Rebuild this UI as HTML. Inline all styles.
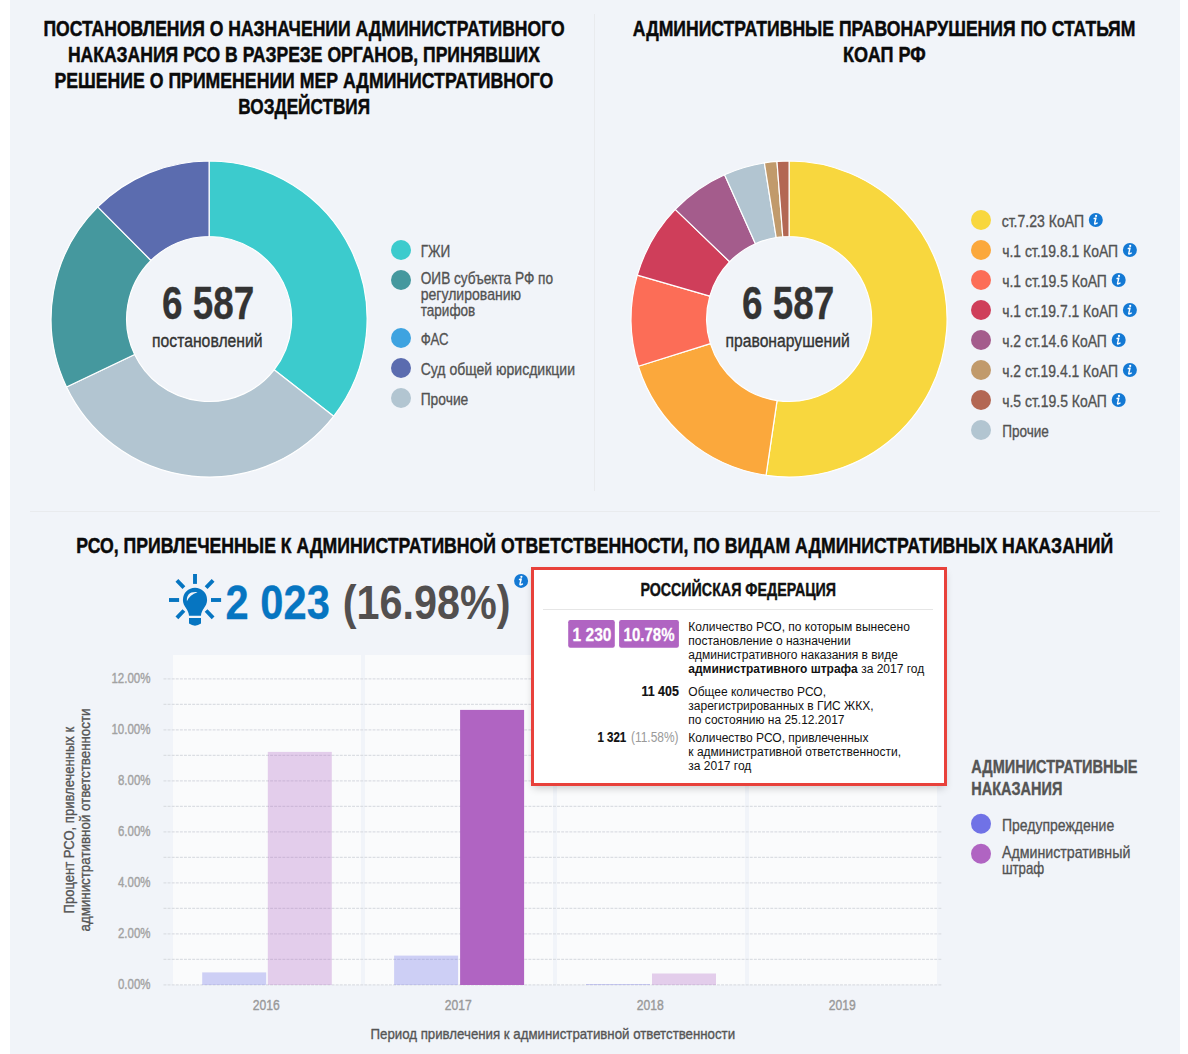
<!DOCTYPE html>
<html><head><meta charset="utf-8"><title>dashboard</title>
<style>
html,body{margin:0;padding:0;background:#fff;}
body{width:1188px;height:1054px;position:relative;overflow:hidden;font-family:"Liberation Sans",sans-serif;}
#bg{position:absolute;left:10px;top:0;width:1170px;height:1054px;background:#f1f4f9;}
svg{position:absolute;left:0;top:0;}
#tip{position:absolute;left:531px;top:567px;width:410px;height:213px;border:3px solid #e8413b;background:#fff;box-shadow:0 4px 8px -2px rgba(0,0,0,.2);}
</style></head><body>
<div id="bg"></div>
<svg width="1188" height="1054" viewBox="0 0 1188 1054">
<line x1="594.5" y1="14" x2="594.5" y2="491" stroke="#e9ebee" stroke-width="1"/>
<line x1="30" y1="511.5" x2="1160" y2="511.5" stroke="#e9ebee" stroke-width="1"/>
<text x="43.4" y="35.6" textLength="521.2" lengthAdjust="spacingAndGlyphs" font-size="22" font-weight="bold" fill="#0a0a0a" text-anchor="start" font-family="Liberation Sans, sans-serif"  stroke="#0a0a0a" stroke-width="0.48" stroke-linejoin="round">ПОСТАНОВЛЕНИЯ О НАЗНАЧЕНИИ АДМИНИСТРАТИВНОГО</text>
<text x="67.9" y="61.6" textLength="472.0" lengthAdjust="spacingAndGlyphs" font-size="22" font-weight="bold" fill="#0a0a0a" text-anchor="start" font-family="Liberation Sans, sans-serif"  stroke="#0a0a0a" stroke-width="0.48" stroke-linejoin="round">НАКАЗАНИЯ РСО В РАЗРЕЗЕ ОРГАНОВ, ПРИНЯВШИХ</text>
<text x="54.5" y="87.6" textLength="498.8" lengthAdjust="spacingAndGlyphs" font-size="22" font-weight="bold" fill="#0a0a0a" text-anchor="start" font-family="Liberation Sans, sans-serif"  stroke="#0a0a0a" stroke-width="0.48" stroke-linejoin="round">РЕШЕНИЕ О ПРИМЕНЕНИИ МЕР АДМИНИСТРАТИВНОГО</text>
<text x="238.3" y="113.6" textLength="131.7" lengthAdjust="spacingAndGlyphs" font-size="22" font-weight="bold" fill="#0a0a0a" text-anchor="start" font-family="Liberation Sans, sans-serif"  stroke="#0a0a0a" stroke-width="0.48" stroke-linejoin="round">ВОЗДЕЙСТВИЯ</text>
<text x="632.8" y="35.6" textLength="502.6" lengthAdjust="spacingAndGlyphs" font-size="22" font-weight="bold" fill="#0a0a0a" text-anchor="start" font-family="Liberation Sans, sans-serif"  stroke="#0a0a0a" stroke-width="0.48" stroke-linejoin="round">АДМИНИСТРАТИВНЫЕ ПРАВОНАРУШЕНИЯ ПО СТАТЬЯМ</text>
<text x="843.1" y="61.6" textLength="82.6" lengthAdjust="spacingAndGlyphs" font-size="22" font-weight="bold" fill="#0a0a0a" text-anchor="start" font-family="Liberation Sans, sans-serif"  stroke="#0a0a0a" stroke-width="0.48" stroke-linejoin="round">КОАП РФ</text>
<text x="76.3" y="552.8" textLength="1036.8" lengthAdjust="spacingAndGlyphs" font-size="22" font-weight="bold" fill="#0a0a0a" text-anchor="start" font-family="Liberation Sans, sans-serif"  stroke="#0a0a0a" stroke-width="0.48" stroke-linejoin="round">РСО, ПРИВЛЕЧЕННЫЕ К АДМИНИСТРАТИВНОЙ ОТВЕТСТВЕННОСТИ, ПО ВИДАМ АДМИНИСТРАТИВНЫХ НАКАЗАНИЙ</text>
<path d="M209.10,161.00 A158,158 0 0 1 333.61,416.27 L274.11,369.79 A82.5,82.5 0 0 0 209.10,236.50 Z" fill="#3ccbcd" stroke="#fff" stroke-width="1.2" stroke-linejoin="round"/>
<path d="M333.61,416.27 A158,158 0 0 1 66.49,387.02 L134.64,354.52 A82.5,82.5 0 0 0 274.11,369.79 Z" fill="#b2c5d1" stroke="#fff" stroke-width="1.2" stroke-linejoin="round"/>
<path d="M66.49,387.02 A158,158 0 0 1 97.77,206.89 L150.97,260.46 A82.5,82.5 0 0 0 134.64,354.52 Z" fill="#45989e" stroke="#fff" stroke-width="1.2" stroke-linejoin="round"/>
<path d="M97.77,206.89 A158,158 0 0 1 209.10,161.00 L209.10,236.50 A82.5,82.5 0 0 0 150.97,260.46 Z" fill="#5b6caf" stroke="#fff" stroke-width="1.2" stroke-linejoin="round"/>
<text x="162.0" y="319.0" textLength="92.3" lengthAdjust="spacingAndGlyphs" font-size="45.5" font-weight="bold" fill="#333" text-anchor="start" font-family="Liberation Sans, sans-serif"  stroke="#333" stroke-width="0.30" stroke-linejoin="round">6 587</text>
<text x="152.0" y="346.8" textLength="110.6" lengthAdjust="spacingAndGlyphs" font-size="18" font-weight="normal" fill="#333" text-anchor="start" font-family="Liberation Sans, sans-serif"  stroke="#333" stroke-width="0.36" stroke-linejoin="round">постановлений</text>
<circle cx="401" cy="250" r="10" fill="#3ccbcd"/>
<circle cx="401" cy="280" r="10" fill="#45989e"/>
<circle cx="401" cy="338" r="10" fill="#3ea3e0"/>
<circle cx="401" cy="368" r="10" fill="#5b6caf"/>
<circle cx="401" cy="398" r="10" fill="#b2c5d1"/>
<text x="420.7" y="256.7" textLength="29.6" lengthAdjust="spacingAndGlyphs" font-size="17" font-weight="normal" fill="#525252" text-anchor="start" font-family="Liberation Sans, sans-serif"  stroke="#525252" stroke-width="0.34" stroke-linejoin="round">ГЖИ</text>
<text x="420.7" y="283.7" textLength="132.4" lengthAdjust="spacingAndGlyphs" font-size="17" font-weight="normal" fill="#525252" text-anchor="start" font-family="Liberation Sans, sans-serif"  stroke="#525252" stroke-width="0.34" stroke-linejoin="round">ОИВ субъекта РФ по</text>
<text x="420.7" y="299.6" textLength="100.4" lengthAdjust="spacingAndGlyphs" font-size="17" font-weight="normal" fill="#525252" text-anchor="start" font-family="Liberation Sans, sans-serif"  stroke="#525252" stroke-width="0.34" stroke-linejoin="round">регулированию</text>
<text x="420.7" y="315.6" textLength="54.6" lengthAdjust="spacingAndGlyphs" font-size="17" font-weight="normal" fill="#525252" text-anchor="start" font-family="Liberation Sans, sans-serif"  stroke="#525252" stroke-width="0.34" stroke-linejoin="round">тарифов</text>
<text x="420.7" y="344.5" textLength="27.8" lengthAdjust="spacingAndGlyphs" font-size="17" font-weight="normal" fill="#525252" text-anchor="start" font-family="Liberation Sans, sans-serif"  stroke="#525252" stroke-width="0.34" stroke-linejoin="round">ФАС</text>
<text x="420.7" y="374.5" textLength="154.3" lengthAdjust="spacingAndGlyphs" font-size="17" font-weight="normal" fill="#525252" text-anchor="start" font-family="Liberation Sans, sans-serif"  stroke="#525252" stroke-width="0.34" stroke-linejoin="round">Суд общей юрисдикции</text>
<text x="420.7" y="404.5" textLength="47.6" lengthAdjust="spacingAndGlyphs" font-size="17" font-weight="normal" fill="#525252" text-anchor="start" font-family="Liberation Sans, sans-serif"  stroke="#525252" stroke-width="0.34" stroke-linejoin="round">Прочие</text>
<path d="M789.10,161.00 A158,158 0 1 1 766.02,475.31 L777.05,400.61 A82.5,82.5 0 1 0 789.10,236.50 Z" fill="#f8d73e" stroke="#fff" stroke-width="1.2" stroke-linejoin="round"/>
<path d="M766.02,475.31 A158,158 0 0 1 638.33,366.25 L710.38,343.67 A82.5,82.5 0 0 0 777.05,400.61 Z" fill="#fba83c" stroke="#fff" stroke-width="1.2" stroke-linejoin="round"/>
<path d="M638.33,366.25 A158,158 0 0 1 637.30,275.18 L709.84,296.12 A82.5,82.5 0 0 0 710.38,343.67 Z" fill="#fc6d57" stroke="#fff" stroke-width="1.2" stroke-linejoin="round"/>
<path d="M637.30,275.18 A158,158 0 0 1 675.25,209.44 L729.65,261.79 A82.5,82.5 0 0 0 709.84,296.12 Z" fill="#cf3e5a" stroke="#fff" stroke-width="1.2" stroke-linejoin="round"/>
<path d="M675.25,209.44 A158,158 0 0 1 724.58,174.77 L755.41,243.69 A82.5,82.5 0 0 0 729.65,261.79 Z" fill="#a45c8c" stroke="#fff" stroke-width="1.2" stroke-linejoin="round"/>
<path d="M724.58,174.77 A158,158 0 0 1 764.38,162.95 L776.19,237.52 A82.5,82.5 0 0 0 755.41,243.69 Z" fill="#b2c5d1" stroke="#fff" stroke-width="1.2" stroke-linejoin="round"/>
<path d="M764.38,162.95 A158,158 0 0 1 776.98,161.47 L782.77,236.74 A82.5,82.5 0 0 0 776.19,237.52 Z" fill="#c19a6b" stroke="#fff" stroke-width="1.2" stroke-linejoin="round"/>
<path d="M776.98,161.47 A158,158 0 0 1 789.10,161.00 L789.10,236.50 A82.5,82.5 0 0 0 782.77,236.74 Z" fill="#b36753" stroke="#fff" stroke-width="1.2" stroke-linejoin="round"/>
<text x="742.0" y="319.0" textLength="92.3" lengthAdjust="spacingAndGlyphs" font-size="45.5" font-weight="bold" fill="#333" text-anchor="start" font-family="Liberation Sans, sans-serif"  stroke="#333" stroke-width="0.30" stroke-linejoin="round">6 587</text>
<text x="725.5" y="346.8" textLength="124.2" lengthAdjust="spacingAndGlyphs" font-size="18" font-weight="normal" fill="#333" text-anchor="start" font-family="Liberation Sans, sans-serif"  stroke="#333" stroke-width="0.36" stroke-linejoin="round">правонарушений</text>
<circle cx="981" cy="220" r="10" fill="#f8d73e"/>
<text x="1001.7" y="226.6" textLength="82.3" lengthAdjust="spacingAndGlyphs" font-size="17" font-weight="normal" fill="#525252" text-anchor="start" font-family="Liberation Sans, sans-serif"  stroke="#525252" stroke-width="0.34" stroke-linejoin="round">ст.7.23 КоАП</text>
<g transform="translate(1095.80,220.00)"><circle r="7" fill="#1479d4"/><circle cx="0.3" cy="-4.1" r="1.1" fill="#fff"/><path d="M-1.55,-1.45 L0.1,-1.9 L-1.15,3.3 Q-1.3,4.2 -0.4,3.9 L1.3,3.1" fill="none" stroke="#fff" stroke-width="1.45" stroke-linecap="round" stroke-linejoin="round"/></g>
<circle cx="981" cy="250" r="10" fill="#fba83c"/>
<text x="1002.2" y="256.6" textLength="115.9" lengthAdjust="spacingAndGlyphs" font-size="17" font-weight="normal" fill="#525252" text-anchor="start" font-family="Liberation Sans, sans-serif"  stroke="#525252" stroke-width="0.34" stroke-linejoin="round">ч.1 ст.19.8.1 КоАП</text>
<g transform="translate(1129.90,250.00)"><circle r="7" fill="#1479d4"/><circle cx="0.3" cy="-4.1" r="1.1" fill="#fff"/><path d="M-1.55,-1.45 L0.1,-1.9 L-1.15,3.3 Q-1.3,4.2 -0.4,3.9 L1.3,3.1" fill="none" stroke="#fff" stroke-width="1.45" stroke-linecap="round" stroke-linejoin="round"/></g>
<circle cx="981" cy="280" r="10" fill="#fc6d57"/>
<text x="1002.2" y="286.6" textLength="104.7" lengthAdjust="spacingAndGlyphs" font-size="17" font-weight="normal" fill="#525252" text-anchor="start" font-family="Liberation Sans, sans-serif"  stroke="#525252" stroke-width="0.34" stroke-linejoin="round">ч.1 ст.19.5 КоАП</text>
<g transform="translate(1118.70,280.00)"><circle r="7" fill="#1479d4"/><circle cx="0.3" cy="-4.1" r="1.1" fill="#fff"/><path d="M-1.55,-1.45 L0.1,-1.9 L-1.15,3.3 Q-1.3,4.2 -0.4,3.9 L1.3,3.1" fill="none" stroke="#fff" stroke-width="1.45" stroke-linecap="round" stroke-linejoin="round"/></g>
<circle cx="981" cy="310" r="10" fill="#cf3e5a"/>
<text x="1002.2" y="316.6" textLength="115.9" lengthAdjust="spacingAndGlyphs" font-size="17" font-weight="normal" fill="#525252" text-anchor="start" font-family="Liberation Sans, sans-serif"  stroke="#525252" stroke-width="0.34" stroke-linejoin="round">ч.1 ст.19.7.1 КоАП</text>
<g transform="translate(1129.90,310.00)"><circle r="7" fill="#1479d4"/><circle cx="0.3" cy="-4.1" r="1.1" fill="#fff"/><path d="M-1.55,-1.45 L0.1,-1.9 L-1.15,3.3 Q-1.3,4.2 -0.4,3.9 L1.3,3.1" fill="none" stroke="#fff" stroke-width="1.45" stroke-linecap="round" stroke-linejoin="round"/></g>
<circle cx="981" cy="340" r="10" fill="#a45c8c"/>
<text x="1002.2" y="346.6" textLength="104.7" lengthAdjust="spacingAndGlyphs" font-size="17" font-weight="normal" fill="#525252" text-anchor="start" font-family="Liberation Sans, sans-serif"  stroke="#525252" stroke-width="0.34" stroke-linejoin="round">ч.2 ст.14.6 КоАП</text>
<g transform="translate(1118.70,340.00)"><circle r="7" fill="#1479d4"/><circle cx="0.3" cy="-4.1" r="1.1" fill="#fff"/><path d="M-1.55,-1.45 L0.1,-1.9 L-1.15,3.3 Q-1.3,4.2 -0.4,3.9 L1.3,3.1" fill="none" stroke="#fff" stroke-width="1.45" stroke-linecap="round" stroke-linejoin="round"/></g>
<circle cx="981" cy="370" r="10" fill="#c19a6b"/>
<text x="1002.2" y="376.6" textLength="115.9" lengthAdjust="spacingAndGlyphs" font-size="17" font-weight="normal" fill="#525252" text-anchor="start" font-family="Liberation Sans, sans-serif"  stroke="#525252" stroke-width="0.34" stroke-linejoin="round">ч.2 ст.19.4.1 КоАП</text>
<g transform="translate(1129.90,370.00)"><circle r="7" fill="#1479d4"/><circle cx="0.3" cy="-4.1" r="1.1" fill="#fff"/><path d="M-1.55,-1.45 L0.1,-1.9 L-1.15,3.3 Q-1.3,4.2 -0.4,3.9 L1.3,3.1" fill="none" stroke="#fff" stroke-width="1.45" stroke-linecap="round" stroke-linejoin="round"/></g>
<circle cx="981" cy="400" r="10" fill="#b36753"/>
<text x="1002.2" y="406.6" textLength="104.7" lengthAdjust="spacingAndGlyphs" font-size="17" font-weight="normal" fill="#525252" text-anchor="start" font-family="Liberation Sans, sans-serif"  stroke="#525252" stroke-width="0.34" stroke-linejoin="round">ч.5 ст.19.5 КоАП</text>
<g transform="translate(1118.70,400.00)"><circle r="7" fill="#1479d4"/><circle cx="0.3" cy="-4.1" r="1.1" fill="#fff"/><path d="M-1.55,-1.45 L0.1,-1.9 L-1.15,3.3 Q-1.3,4.2 -0.4,3.9 L1.3,3.1" fill="none" stroke="#fff" stroke-width="1.45" stroke-linecap="round" stroke-linejoin="round"/></g>
<circle cx="981" cy="430" r="10" fill="#b2c5d1"/>
<text x="1002.2" y="436.6" textLength="46.7" lengthAdjust="spacingAndGlyphs" font-size="17" font-weight="normal" fill="#525252" text-anchor="start" font-family="Liberation Sans, sans-serif"  stroke="#525252" stroke-width="0.34" stroke-linejoin="round">Прочие</text>
<g fill="#0675c1" stroke="none"><rect x="193.05" y="574" width="3.9" height="9.9"/><rect x="169" y="598.05" width="10.1" height="3.9"/><rect x="211" y="598.05" width="10.1" height="3.9"/><path d="M189,615.8 C189,609.5 182.9,606.5 182.9,599.9 A12.1,12.1 0 0 1 207.1,599.9 C207.1,606.5 201,609.5 201,615.8 Z"/><path d="M189,618.1 H201 V623.6 Q195,627.8 189,623.6 Z"/></g>
<g stroke="#0675c1" stroke-width="3.9" fill="none"><path d="M176.9,580.3 L183.9,587.6 M213.1,580.3 L206.1,587.6 M176.9,617.8 L183.9,610.5 M213.1,617.8 L206.1,610.5"/></g>
<path d="M186.9,601.2 C186.3,594.5 190.5,591.3 197.5,592.2 C192.3,593.6 188.8,597 186.9,601.2 Z" fill="#f1f4f9"/>
<text x="225.6" y="619.4" textLength="104.2" lengthAdjust="spacingAndGlyphs" font-size="47.5" font-weight="bold" fill="#0675c1" text-anchor="start" font-family="Liberation Sans, sans-serif"  stroke="#0675c1" stroke-width="0.30" stroke-linejoin="round">2 023</text>
<text x="342.7" y="619.2" textLength="167.8" lengthAdjust="spacingAndGlyphs" font-size="47.5" font-weight="bold" fill="#524f4f" text-anchor="start" font-family="Liberation Sans, sans-serif" >(16.98%)</text>
<g transform="translate(521.10,580.90)"><circle r="7" fill="#1479d4"/><circle cx="0.3" cy="-4.1" r="1.1" fill="#fff"/><path d="M-1.55,-1.45 L0.1,-1.9 L-1.15,3.3 Q-1.3,4.2 -0.4,3.9 L1.3,3.1" fill="none" stroke="#fff" stroke-width="1.45" stroke-linecap="round" stroke-linejoin="round"/></g>
<rect x="173" y="655" width="188" height="330" fill="#fafbfc"/>
<rect x="365" y="655" width="188" height="330" fill="#fafbfc"/>
<rect x="557" y="655" width="188" height="330" fill="#fafbfc"/>
<rect x="749" y="655" width="188" height="330" fill="#fafbfc"/>
<line x1="163.5" y1="984.8" x2="942.5" y2="984.8" stroke="#dbdee3" stroke-width="1.25" stroke-dasharray="2.9,1.2"/>
<line x1="163.5" y1="959.3" x2="942.5" y2="959.3" stroke="#dbdee3" stroke-width="1.25" stroke-dasharray="2.9,1.2"/>
<line x1="163.5" y1="933.8" x2="942.5" y2="933.8" stroke="#dbdee3" stroke-width="1.25" stroke-dasharray="2.9,1.2"/>
<line x1="163.5" y1="908.3" x2="942.5" y2="908.3" stroke="#dbdee3" stroke-width="1.25" stroke-dasharray="2.9,1.2"/>
<line x1="163.5" y1="882.8" x2="942.5" y2="882.8" stroke="#dbdee3" stroke-width="1.25" stroke-dasharray="2.9,1.2"/>
<line x1="163.5" y1="857.3" x2="942.5" y2="857.3" stroke="#dbdee3" stroke-width="1.25" stroke-dasharray="2.9,1.2"/>
<line x1="163.5" y1="831.8" x2="942.5" y2="831.8" stroke="#dbdee3" stroke-width="1.25" stroke-dasharray="2.9,1.2"/>
<line x1="163.5" y1="806.3" x2="942.5" y2="806.3" stroke="#dbdee3" stroke-width="1.25" stroke-dasharray="2.9,1.2"/>
<line x1="163.5" y1="780.8" x2="942.5" y2="780.8" stroke="#dbdee3" stroke-width="1.25" stroke-dasharray="2.9,1.2"/>
<line x1="163.5" y1="755.3" x2="942.5" y2="755.3" stroke="#dbdee3" stroke-width="1.25" stroke-dasharray="2.9,1.2"/>
<line x1="163.5" y1="729.8" x2="942.5" y2="729.8" stroke="#dbdee3" stroke-width="1.25" stroke-dasharray="2.9,1.2"/>
<line x1="163.5" y1="704.3" x2="942.5" y2="704.3" stroke="#dbdee3" stroke-width="1.25" stroke-dasharray="2.9,1.2"/>
<line x1="163.5" y1="678.8" x2="942.5" y2="678.8" stroke="#dbdee3" stroke-width="1.25" stroke-dasharray="2.9,1.2"/>
<rect x="202.2" y="972.4" width="64.0" height="12.600000000000023" fill="#7072e6" fill-opacity="0.32"/>
<rect x="267.8" y="751.9" width="64.0" height="233.10000000000002" fill="#b064c2" fill-opacity="0.3"/>
<rect x="394.1" y="955.6" width="64.0" height="29.399999999999977" fill="#7072e6" fill-opacity="0.32"/>
<rect x="460.1" y="709.9" width="64.0" height="275.1" fill="#b064c2" fill-opacity="1"/>
<rect x="586" y="984" width="64" height="1" fill="#7072e6" fill-opacity="0.32"/>
<rect x="652" y="973.5" width="64" height="11.5" fill="#b064c2" fill-opacity="0.3"/>
<text x="118.0" y="988.8" textLength="32.5" lengthAdjust="spacingAndGlyphs" font-size="14" font-weight="normal" fill="#a2a2a2" text-anchor="start" font-family="Liberation Sans, sans-serif"  stroke="#a2a2a2" stroke-width="0.40" stroke-linejoin="round">0.00%</text>
<text x="118.0" y="937.8" textLength="32.5" lengthAdjust="spacingAndGlyphs" font-size="14" font-weight="normal" fill="#a2a2a2" text-anchor="start" font-family="Liberation Sans, sans-serif"  stroke="#a2a2a2" stroke-width="0.40" stroke-linejoin="round">2.00%</text>
<text x="118.0" y="886.8" textLength="32.5" lengthAdjust="spacingAndGlyphs" font-size="14" font-weight="normal" fill="#a2a2a2" text-anchor="start" font-family="Liberation Sans, sans-serif"  stroke="#a2a2a2" stroke-width="0.40" stroke-linejoin="round">4.00%</text>
<text x="118.0" y="835.8" textLength="32.5" lengthAdjust="spacingAndGlyphs" font-size="14" font-weight="normal" fill="#a2a2a2" text-anchor="start" font-family="Liberation Sans, sans-serif"  stroke="#a2a2a2" stroke-width="0.40" stroke-linejoin="round">6.00%</text>
<text x="118.0" y="784.8" textLength="32.5" lengthAdjust="spacingAndGlyphs" font-size="14" font-weight="normal" fill="#a2a2a2" text-anchor="start" font-family="Liberation Sans, sans-serif"  stroke="#a2a2a2" stroke-width="0.40" stroke-linejoin="round">8.00%</text>
<text x="111.4" y="733.8" textLength="39.1" lengthAdjust="spacingAndGlyphs" font-size="14" font-weight="normal" fill="#a2a2a2" text-anchor="start" font-family="Liberation Sans, sans-serif"  stroke="#a2a2a2" stroke-width="0.40" stroke-linejoin="round">10.00%</text>
<text x="111.4" y="682.8" textLength="39.1" lengthAdjust="spacingAndGlyphs" font-size="14" font-weight="normal" fill="#a2a2a2" text-anchor="start" font-family="Liberation Sans, sans-serif"  stroke="#a2a2a2" stroke-width="0.40" stroke-linejoin="round">12.00%</text>
<text x="252.7" y="1009.6" textLength="27.0" lengthAdjust="spacingAndGlyphs" font-size="14" font-weight="normal" fill="#999" text-anchor="start" font-family="Liberation Sans, sans-serif"  stroke="#999" stroke-width="0.40" stroke-linejoin="round">2016</text>
<text x="444.7" y="1009.6" textLength="27.0" lengthAdjust="spacingAndGlyphs" font-size="14" font-weight="normal" fill="#999" text-anchor="start" font-family="Liberation Sans, sans-serif"  stroke="#999" stroke-width="0.40" stroke-linejoin="round">2017</text>
<text x="636.7" y="1009.6" textLength="27.0" lengthAdjust="spacingAndGlyphs" font-size="14" font-weight="normal" fill="#999" text-anchor="start" font-family="Liberation Sans, sans-serif"  stroke="#999" stroke-width="0.40" stroke-linejoin="round">2018</text>
<text x="828.7" y="1009.6" textLength="27.0" lengthAdjust="spacingAndGlyphs" font-size="14" font-weight="normal" fill="#999" text-anchor="start" font-family="Liberation Sans, sans-serif"  stroke="#999" stroke-width="0.40" stroke-linejoin="round">2019</text>
<text x="370.5" y="1039.0" textLength="364.6" lengthAdjust="spacingAndGlyphs" font-size="15" font-weight="normal" fill="#555" text-anchor="start" font-family="Liberation Sans, sans-serif"  stroke="#555" stroke-width="0.35" stroke-linejoin="round">Период привлечения к административной ответственности</text>
<g transform="translate(74.2,820.2) rotate(-90)">
<text x="-93.2" y="0.0" textLength="186.5" lengthAdjust="spacingAndGlyphs" font-size="15" font-weight="normal" fill="#555" text-anchor="start" font-family="Liberation Sans, sans-serif"  stroke="#555" stroke-width="0.35" stroke-linejoin="round">Процент РСО, привлеченных к</text>
</g>
<g transform="translate(89.5,820) rotate(-90)">
<text x="-111.5" y="0.0" textLength="223.0" lengthAdjust="spacingAndGlyphs" font-size="15" font-weight="normal" fill="#555" text-anchor="start" font-family="Liberation Sans, sans-serif"  stroke="#555" stroke-width="0.35" stroke-linejoin="round">административной ответственности</text>
</g>
<text x="971.3" y="772.9" textLength="166.1" lengthAdjust="spacingAndGlyphs" font-size="18" font-weight="bold" fill="#555" text-anchor="start" font-family="Liberation Sans, sans-serif"  stroke="#555" stroke-width="0.40" stroke-linejoin="round">АДМИНИСТРАТИВНЫЕ</text>
<text x="971.3" y="794.8" textLength="91.0" lengthAdjust="spacingAndGlyphs" font-size="18" font-weight="bold" fill="#555" text-anchor="start" font-family="Liberation Sans, sans-serif"  stroke="#555" stroke-width="0.40" stroke-linejoin="round">НАКАЗАНИЯ</text>
<circle cx="981" cy="823.8" r="10" fill="#7072e6"/>
<circle cx="981" cy="853.8" r="10" fill="#b064c2"/>
<text x="1001.9" y="830.5" textLength="112.3" lengthAdjust="spacingAndGlyphs" font-size="17" font-weight="normal" fill="#525252" text-anchor="start" font-family="Liberation Sans, sans-serif"  stroke="#525252" stroke-width="0.34" stroke-linejoin="round">Предупреждение</text>
<text x="1001.9" y="857.7" textLength="128.5" lengthAdjust="spacingAndGlyphs" font-size="17" font-weight="normal" fill="#525252" text-anchor="start" font-family="Liberation Sans, sans-serif"  stroke="#525252" stroke-width="0.34" stroke-linejoin="round">Административный</text>
<text x="1001.9" y="873.6" textLength="42.4" lengthAdjust="spacingAndGlyphs" font-size="17" font-weight="normal" fill="#525252" text-anchor="start" font-family="Liberation Sans, sans-serif"  stroke="#525252" stroke-width="0.34" stroke-linejoin="round">штраф</text>
</svg>
<div id="tip"></div>
<svg width="1188" height="1054" viewBox="0 0 1188 1054">
<text x="640.4" y="595.7" textLength="195.7" lengthAdjust="spacingAndGlyphs" font-size="18" font-weight="bold" fill="#111" text-anchor="start" font-family="Liberation Sans, sans-serif"  stroke="#111" stroke-width="0.40" stroke-linejoin="round">РОССИЙСКАЯ ФЕДЕРАЦИЯ</text>
<line x1="543" y1="609.5" x2="933" y2="609.5" stroke="#e6e6e6" stroke-width="1"/>
<rect x="568.2" y="620" width="46.6" height="27.8" rx="2.2" fill="#b064c2"/>
<rect x="619.1" y="620" width="59.8" height="27.8" rx="2.2" fill="#b064c2"/>
<text x="572.6" y="640.9" textLength="38.9" lengthAdjust="spacingAndGlyphs" font-size="18.6" font-weight="bold" fill="#fff" text-anchor="start" font-family="Liberation Sans, sans-serif"  stroke="#fff" stroke-width="0.30" stroke-linejoin="round">1 230</text>
<text x="623.6" y="640.9" textLength="50.9" lengthAdjust="spacingAndGlyphs" font-size="18.6" font-weight="bold" fill="#fff" text-anchor="start" font-family="Liberation Sans, sans-serif"  stroke="#fff" stroke-width="0.30" stroke-linejoin="round">10.78%</text>
<text x="688.3" y="631.0" font-size="12" font-weight="normal" fill="#111" text-anchor="start" font-family="Liberation Sans, sans-serif" >Количество РСО, по которым вынесено</text>
<text x="688.3" y="645.0" font-size="12" font-weight="normal" fill="#111" text-anchor="start" font-family="Liberation Sans, sans-serif" >постановление о назначении</text>
<text x="688.3" y="659.0" font-size="12" font-weight="normal" fill="#111" text-anchor="start" font-family="Liberation Sans, sans-serif" >административного наказания в виде</text>
<text x="688.3" y="673" font-size="12" fill="#111" font-family="Liberation Sans, sans-serif"><tspan font-weight="bold">административного штрафа</tspan> за 2017 год</text>
<text x="688.3" y="696.0" font-size="12" font-weight="normal" fill="#111" text-anchor="start" font-family="Liberation Sans, sans-serif" >Общее количество РСО,</text>
<text x="688.3" y="710.0" font-size="12" font-weight="normal" fill="#111" text-anchor="start" font-family="Liberation Sans, sans-serif" >зарегистрированных в ГИС ЖКХ,</text>
<text x="688.3" y="724.0" font-size="12" font-weight="normal" fill="#111" text-anchor="start" font-family="Liberation Sans, sans-serif" >по состоянию на 25.12.2017</text>
<text x="688.3" y="742.0" font-size="12" font-weight="normal" fill="#111" text-anchor="start" font-family="Liberation Sans, sans-serif" >Количество РСО, привлеченных</text>
<text x="688.3" y="756.0" font-size="12" font-weight="normal" fill="#111" text-anchor="start" font-family="Liberation Sans, sans-serif" >к административной ответственности,</text>
<text x="688.3" y="770.0" font-size="12" font-weight="normal" fill="#111" text-anchor="start" font-family="Liberation Sans, sans-serif" >за 2017 год</text>
<text x="641.6" y="695.7" textLength="37.2" lengthAdjust="spacingAndGlyphs" font-size="13.8" font-weight="bold" fill="#111" text-anchor="start" font-family="Liberation Sans, sans-serif"  stroke="#111" stroke-width="0.20" stroke-linejoin="round">11 405</text>
<text x="597.4" y="741.8" textLength="28.9" lengthAdjust="spacingAndGlyphs" font-size="13.8" font-weight="bold" fill="#111" text-anchor="start" font-family="Liberation Sans, sans-serif"  stroke="#111" stroke-width="0.20" stroke-linejoin="round">1 321</text>
<text x="631.0" y="741.8" textLength="47.5" lengthAdjust="spacingAndGlyphs" font-size="13.8" font-weight="normal" fill="#9a9a9a" text-anchor="start" font-family="Liberation Sans, sans-serif" >(11.58%)</text>
</svg>
</body></html>
